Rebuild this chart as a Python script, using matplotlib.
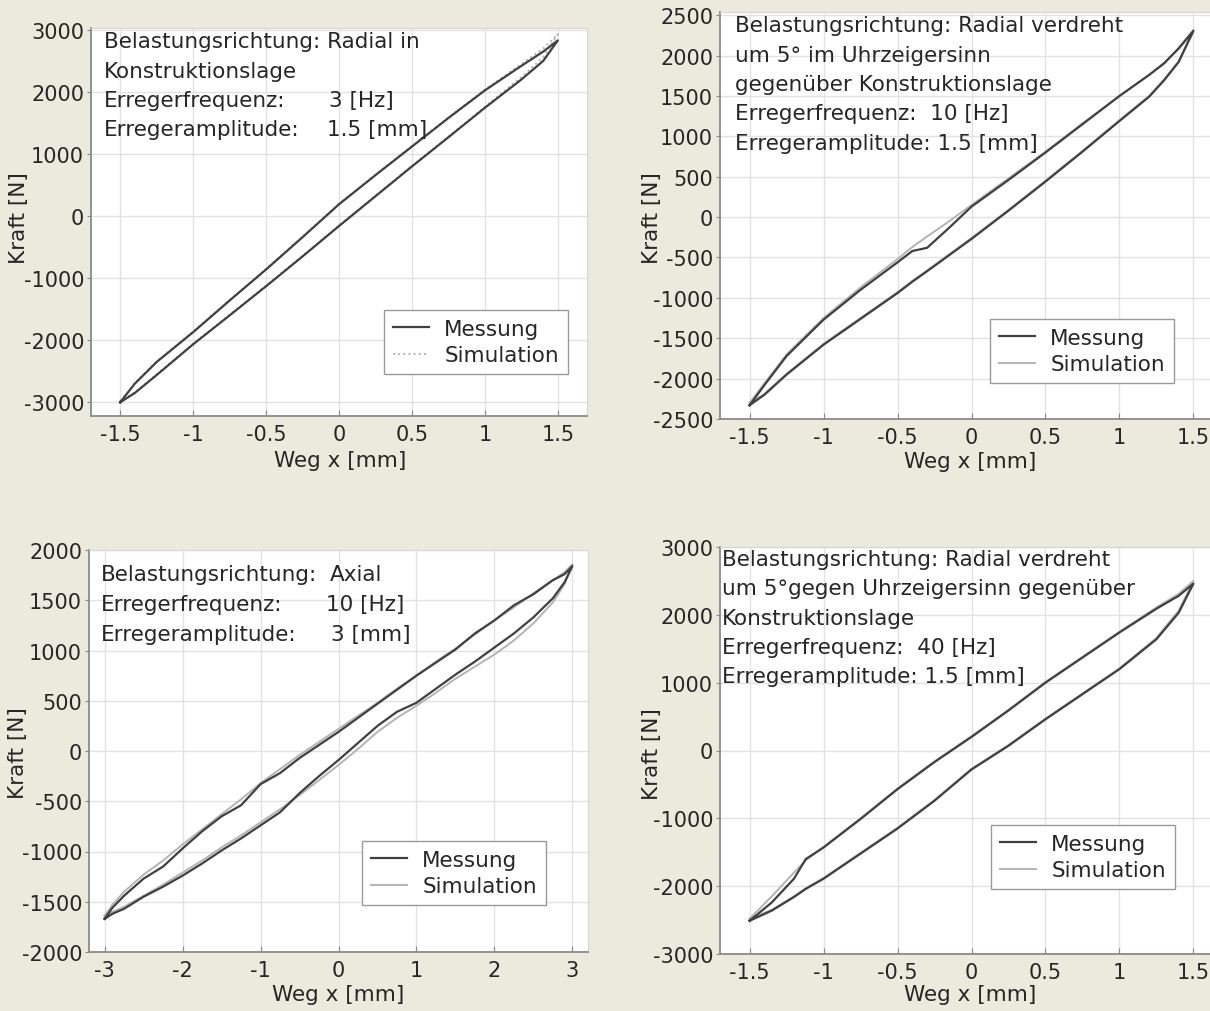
import matplotlib
matplotlib.use('Agg')
import matplotlib.pyplot as plt

W, H = 1210, 1012
BG = '#ECEADC'
MESS_COLOR = '#404040'
SIM_COLOR = '#B4B4B4'
TEXT_COLOR = '#262626'
FS = 15.5

plt.rcParams['font.family'] = ['DejaVu Sans']
plt.rcParams['font.size'] = FS
plt.rcParams['axes.unicode_minus'] = False

# --- panel 1: radial, 3 Hz, 1.5 mm ---
p1_x = [-1.5, -1.4, -1.25, -1.0, -0.75, -0.5, -0.25, 0, 0.25, 0.5, 0.75, 1.0, 1.25, 1.4, 1.5]
p1_mess_up = [-3000, -2700, -2350, -1870, -1360, -860, -340, 190, 660, 1120, 1580, 2025, 2420, 2650, 2830]
p1_mess_lo = [-3000, -2850, -2560, -2065, -1600, -1130, -650, -160, 320, 800, 1270, 1745, 2200, 2500, 2830]
p1_sim_up = [-2980, -2690, -2340, -1860, -1350, -850, -330, 200, 670, 1130, 1590, 2035, 2450, 2700, 2930]
p1_sim_lo = [-2980, -2840, -2550, -2055, -1590, -1120, -640, -150, 330, 810, 1280, 1760, 2240, 2560, 2930]

# --- panel 2: radial +5 deg, 10 Hz, 1.5 mm ---
p2_x = [-1.5, -1.4, -1.25, -1.0, -0.75, -0.5, -0.4, -0.3, -0.15, 0, 0.25, 0.5, 0.75, 1.0, 1.2, 1.3, 1.4, 1.5]
p2_mess_up = [-2330, -2080, -1720, -1270, -900, -560, -420, -380, -130, 130, 460, 800, 1150, 1500, 1760, 1900, 2090, 2310]
p2_mess_lo = [-2330, -2200, -1950, -1580, -1260, -940, -800, -670, -470, -270, 80, 440, 810, 1190, 1490, 1690, 1920, 2310]
p2_sim_up = [-2300, -2060, -1700, -1250, -870, -520, -370, -240, -50, 150, 480, 810, 1160, 1500, 1760, 1910, 2080, 2290]
p2_sim_lo = [-2300, -2190, -1940, -1570, -1250, -930, -790, -660, -460, -260, 90, 450, 820, 1200, 1500, 1700, 1930, 2290]

# --- panel 3: axial, 10 Hz, 3 mm ---
p3_x = [-3.0, -2.9, -2.75, -2.5, -2.25, -2.0, -1.75, -1.5, -1.25, -1.0, -0.75, -0.5, -0.25,
        0, 0.25, 0.5, 0.75, 1.0, 1.25, 1.5, 1.75, 2.0, 2.25, 2.5, 2.75, 2.9, 3.0]
p3_mess_up = [-1670, -1560, -1440, -1270, -1150, -970, -800, -650, -540, -330, -220, -70, 60,
              190, 330, 470, 610, 750, 880, 1010, 1170, 1300, 1450, 1560, 1700, 1760, 1840]
p3_mess_lo = [-1670, -1620, -1570, -1450, -1350, -1240, -1120, -990, -870, -740, -610, -420, -250,
              -90, 80, 250, 390, 480, 620, 760, 890, 1030, 1170, 1330, 1520, 1680, 1840]
p3_sim_up = [-1640, -1530, -1400, -1230, -1090, -930, -780, -630, -480, -320, -180, -40, 90,
             220, 350, 480, 620, 750, 890, 1020, 1160, 1300, 1430, 1570, 1700, 1780, 1860]
p3_sim_lo = [-1640, -1600, -1550, -1440, -1330, -1210, -1090, -960, -840, -710, -580, -440, -290,
             -140, 20, 190, 330, 450, 580, 720, 840, 960, 1100, 1270, 1480, 1660, 1860]

# --- panel 4: radial -5 deg, 40 Hz, 1.5 mm ---
p4_x = [-1.5, -1.35, -1.2, -1.12, -1.0, -0.75, -0.5, -0.25, 0, 0.25, 0.5, 0.75, 1.0, 1.25, 1.4, 1.5]
p4_mess_up = [-2510, -2240, -1890, -1600, -1430, -1010, -570, -170, 200, 590, 1000, 1370, 1740, 2090, 2280, 2460]
p4_mess_lo = [-2510, -2360, -2160, -2040, -1890, -1520, -1150, -740, -280, 70, 460, 830, 1200, 1640, 2030, 2460]
p4_sim_up = [-2480, -2150, -1800, -1620, -1420, -1000, -560, -160, 210, 600, 1010, 1380, 1750, 2110, 2310, 2500]
p4_sim_lo = [-2480, -2350, -2150, -2030, -1880, -1510, -1140, -730, -270, 80, 470, 840, 1210, 1660, 2060, 2500]

x_ticks_15 = [-1.5, -1, -0.5, 0, 0.5, 1, 1.5]
x_labels_15 = ['-1.5', '-1', '-0.5', '0', '0.5', '1', '1.5']
x_ticks_3 = [-3, -2, -1, 0, 1, 2, 3]
x_labels_3 = ['-3', '-2', '-1', '0', '1', '2', '3']

fig = plt.figure(figsize=(W / 100, H / 100), dpi=100, facecolor=BG)


def box(left, top, right, bottom):
    return [left / W, 1 - bottom / H, (right - left) / W, (bottom - top) / H]


def loop(xs, up, lo):
    return xs + xs[::-1], up + lo[::-1]


def make_panel(rect, xs, mess_up, mess_lo, sim_up, sim_lo, xlim, ylim, xticks, xlabels,
               yticks, sim_style, legend_at):
    ax = fig.add_axes(rect)
    ax.set_facecolor('white')
    sx, sy = loop(xs, sim_up, sim_lo)
    mx, my = loop(xs, mess_up, mess_lo)
    ax.plot(sx, sy, color=SIM_COLOR, lw=1.4, ls=sim_style, label='Simulation', zorder=2)
    ax.plot(mx, my, color=MESS_COLOR, lw=1.6, label='Messung', zorder=3)
    ax.set_xlim(*xlim)
    ax.set_ylim(*ylim)
    ax.set_xticks(xticks)
    ax.set_xticklabels(xlabels)
    ax.set_yticks(yticks)
    ax.set_yticklabels([str(v) for v in yticks])
    ax.grid(True, color='#E2E2E2', lw=1)
    ax.set_axisbelow(True)
    for side in ['top', 'right']:
        ax.spines[side].set_color('#D6D6D6')
    for side in ['left', 'bottom']:
        ax.spines[side].set_color('#8A8A8A')
        ax.spines[side].set_linewidth(1.3)
    ax.tick_params(axis='x', direction='in', length=4, pad=6, colors='#8A8A8A',
                   labelcolor=TEXT_COLOR, labelsize=15)
    ax.tick_params(axis='y', direction='out', length=3, pad=2, colors='#8A8A8A',
                   labelcolor=TEXT_COLOR, labelsize=15)
    handles, labels = ax.get_legend_handles_labels()
    leg = ax.legend(handles[::-1], labels[::-1], loc='upper left',
                    bbox_to_anchor=(legend_at[0] / W, 1 - legend_at[1] / H),
                    bbox_transform=fig.transFigure, borderaxespad=0, fontsize=FS,
                    frameon=True, fancybox=False, framealpha=1, edgecolor='#9A9A9A',
                    handlelength=1.7, handletextpad=0.7, labelspacing=0.3, borderpad=0.4)
    leg.get_frame().set_linewidth(1)
    for t in leg.get_texts():
        t.set_color(TEXT_COLOR)
    return ax


make_panel(box(91, 29, 587, 417), p1_x, p1_mess_up, p1_mess_lo, p1_sim_up, p1_sim_lo,
           (-1.7, 1.7), (-3220, 3030), x_ticks_15, x_labels_15,
           [-3000, -2000, -1000, 0, 1000, 2000, 3000], ':', (384, 311))
make_panel(box(720, 13, 1223, 420), p2_x, p2_mess_up, p2_mess_lo, p2_sim_up, p2_sim_lo,
           (-1.7, 1.7), (-2500, 2540), x_ticks_15, x_labels_15,
           list(range(-2500, 2501, 500)), '-', (990, 320))
make_panel(box(89, 551, 588, 953), p3_x, p3_mess_up, p3_mess_lo, p3_sim_up, p3_sim_lo,
           (-3.2, 3.2), (-2000, 2000), x_ticks_3, x_labels_3,
           list(range(-2000, 2001, 500)), '-', (362, 842))
make_panel(box(720, 548, 1223, 955), p4_x, p4_mess_up, p4_mess_lo, p4_sim_up, p4_sim_lo,
           (-1.7, 1.7), (-3000, 3000), x_ticks_15, x_labels_15,
           [-3000, -2000, -1000, 0, 1000, 2000, 3000], '-', (991, 826))


def put(px, py, s, **kw):
    fig.text(px / W, 1 - py / H, s, va='center', ha='left', color=TEXT_COLOR, fontsize=FS, **kw)


# axis labels
for cx, cy in [(340, 461), (970, 462), (338, 995), (970, 995)]:
    fig.text(cx / W, 1 - cy / H, 'Weg x [mm]', ha='center', va='center', color=TEXT_COLOR, fontsize=FS)
for cx, cy in [(19, 218), (652, 218), (18, 753), (652, 754)]:
    fig.text(cx / W, 1 - cy / H, 'Kraft [N]', ha='center', va='center', rotation=90,
             color=TEXT_COLOR, fontsize=FS)

# panel 1 annotation
put(104, 42, 'Belastungsrichtung: Radial in')
put(104, 72, 'Konstruktionslage')
put(104, 101, 'Erregerfrequenz:')
put(104, 130, 'Erregeramplitude:')
put(329, 101, '3 [Hz]')
put(327, 130, '1.5 [mm]')

# panel 2 annotation
for i, line in enumerate(['Belastungsrichtung: Radial verdreht',
                          'um 5° im Uhrzeigersinn',
                          'gegenüber Konstruktionslage',
                          'Erregerfrequenz:  10 [Hz]',
                          'Erregeramplitude: 1.5 [mm]']):
    put(735, 26 + 29.5 * i, line)

# panel 3 annotation
put(101, 575, 'Belastungsrichtung:')
put(101, 605, 'Erregerfrequenz:')
put(101, 635, 'Erregeramplitude:')
put(330, 575, 'Axial')
put(326, 605, '10 [Hz]')
put(331, 635, '3 [mm]')

# panel 4 annotation
for i, line in enumerate(['Belastungsrichtung: Radial verdreht',
                          'um 5°gegen Uhrzeigersinn gegenüber',
                          'Konstruktionslage',
                          'Erregerfrequenz:  40 [Hz]',
                          'Erregeramplitude: 1.5 [mm]']):
    put(722, 560 + 29.3 * i, line)

fig.savefig('out.png', dpi=100, facecolor=BG)
